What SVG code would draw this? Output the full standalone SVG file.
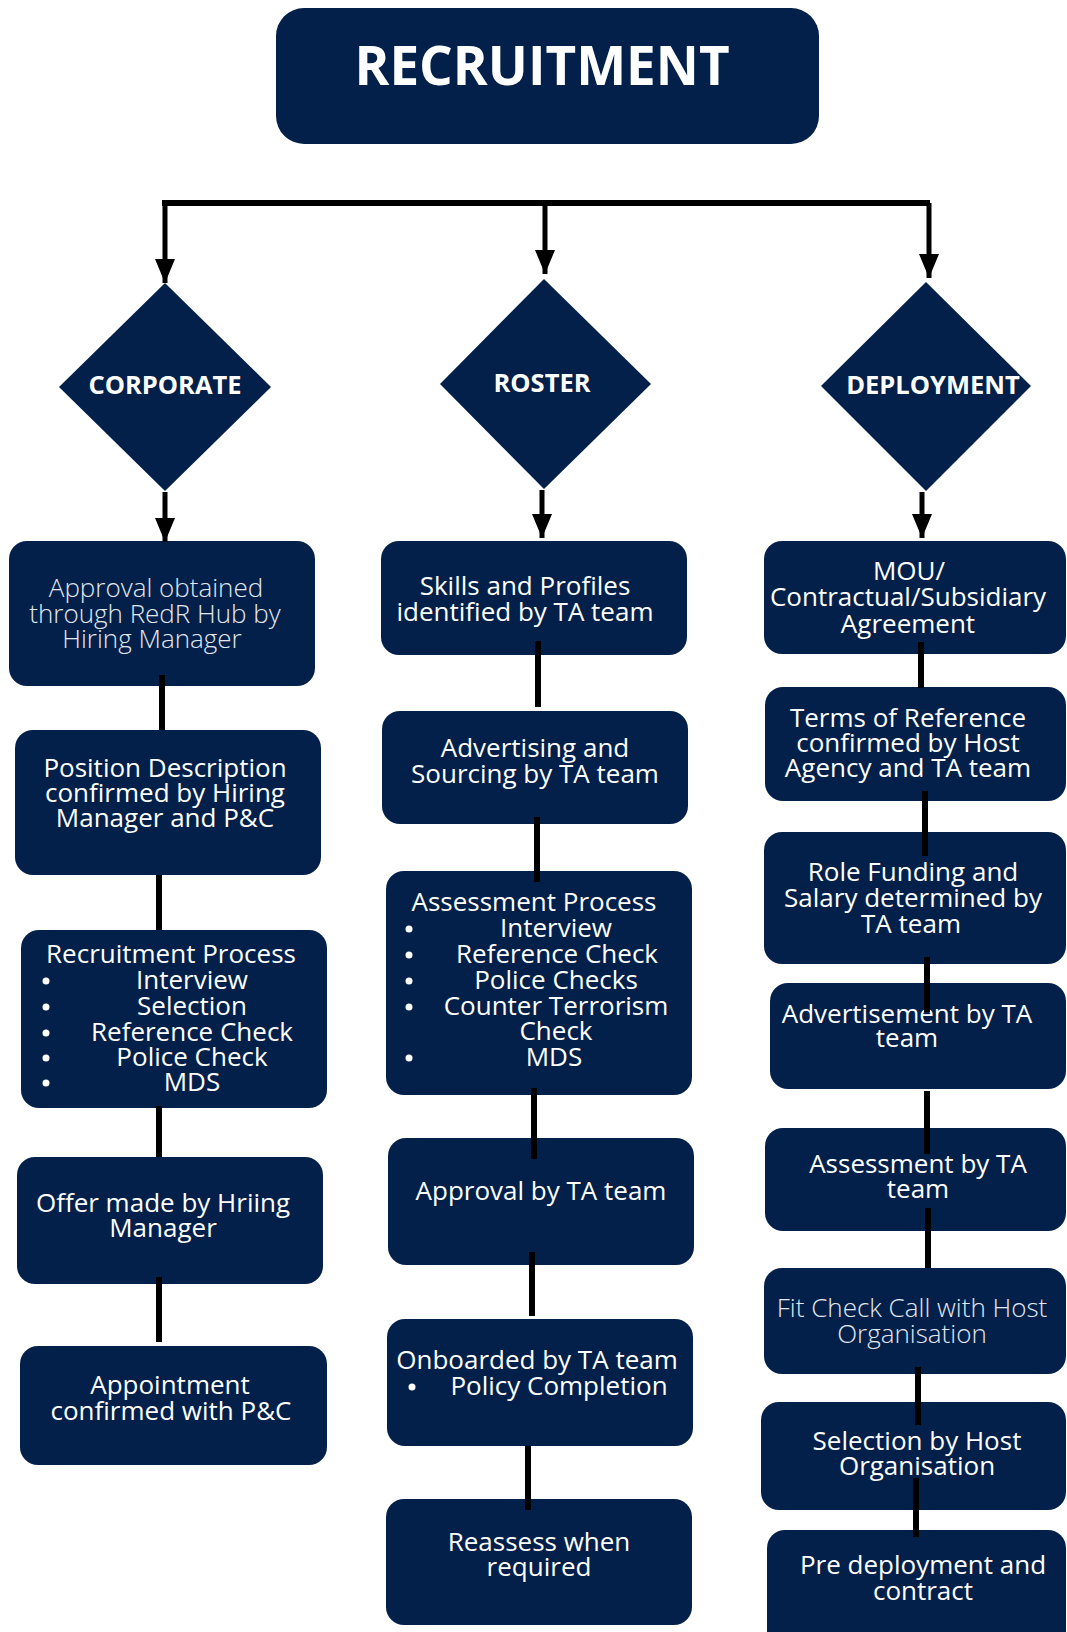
<svg xmlns="http://www.w3.org/2000/svg" width="1067" height="1632" viewBox="0 0 1067 1632">
<defs>
<style>
.box{fill:#03204a}
.t{font-family:'Open Sans','Liberation Sans',sans-serif;font-size:26px;fill:#ffffff;text-anchor:middle}
.lt{font-weight:300;fill:#e4e8ee}
.d{font-family:'Open Sans','Liberation Sans',sans-serif;font-size:25.5px;font-weight:700;fill:#ffffff;text-anchor:middle}
.c{stroke:#000;stroke-width:6;fill:none}
.a{stroke:#000;stroke-width:5;fill:none}
.b{fill:#ffffff}
</style>
<marker id="ah" markerUnits="userSpaceOnUse" markerWidth="26" markerHeight="20" refX="24" refY="10" orient="auto">
<path d="M0,0 L24,10 L0,20 Z" fill="#000"/>
</marker>
</defs>
<rect width="1067" height="1632" fill="#ffffff"/>

<g id="title">
<rect class="box" x="276" y="8" width="543" height="136" rx="28"/>
<text x="542" y="85" font-family="'Open Sans','Liberation Sans',sans-serif" font-size="53" font-weight="700" fill="#ffffff" text-anchor="middle">RECRUITMENT</text>
</g>

<g id="corporate">
<polygon class="box" points="165,283 271,387 165,491 59,387"/>
<text class="d" x="165" y="394">CORPORATE</text>
</g>
<g id="roster">
<polygon class="box" points="544,279 651,384 544,489 440,384"/>
<text class="d" x="542" y="392">ROSTER</text>
</g>
<g id="deployment">
<polygon class="box" points="926,282 1031,386 926,491 821,386"/>
<text class="d" x="933" y="394">DEPLOYMENT</text>
</g>

<g id="c1">
<rect class="box" x="9" y="541" width="306" height="145" rx="18"/>
<text class="t lt" x="156" y="597">Approval obtained</text>
<text class="t lt" x="155" y="623">through RedR Hub by</text>
<text class="t lt" x="152" y="648">Hiring Manager</text>
</g>
<g id="c2">
<rect class="box" x="15" y="730" width="306" height="145" rx="18"/>
<text class="t" x="165" y="777">Position Description</text>
<text class="t" x="165" y="802">confirmed by Hiring</text>
<text class="t" x="165" y="827">Manager and P&amp;C</text>
</g>
<g id="c3">
<rect class="box" x="21" y="930" width="306" height="178" rx="18"/>
<text class="t" x="171" y="963">Recruitment Process</text>
<circle class="b" cx="46" cy="981" r="3.5"/><text class="t" x="192" y="989">Interview</text>
<circle class="b" cx="46" cy="1007" r="3.5"/><text class="t" x="192" y="1015">Selection</text>
<circle class="b" cx="46" cy="1033" r="3.5"/><text class="t" x="192" y="1041">Reference Check</text>
<circle class="b" cx="46" cy="1058" r="3.5"/><text class="t" x="192" y="1066">Police Check</text>
<circle class="b" cx="46" cy="1083" r="3.5"/><text class="t" x="192" y="1091">MDS</text>
</g>
<g id="c4">
<rect class="box" x="17" y="1157" width="306" height="127" rx="18"/>
<text class="t" x="163" y="1212">Offer made by Hriing</text>
<text class="t" x="163" y="1237">Manager</text>
</g>
<g id="c5">
<rect class="box" x="20" y="1346" width="307" height="119" rx="18"/>
<text class="t" x="170" y="1394">Appointment</text>
<text class="t" x="171" y="1420">confirmed with P&amp;C</text>
</g>

<g id="r1">
<rect class="box" x="381" y="541" width="306" height="114" rx="18"/>
<text class="t" x="525" y="595">Skills and Profiles</text>
<text class="t" x="525" y="621">identified by TA team</text>
</g>
<g id="r2">
<rect class="box" x="382" y="711" width="306" height="113" rx="18"/>
<text class="t" x="535" y="757">Advertising and</text>
<text class="t" x="535" y="783">Sourcing by TA team</text>
</g>
<g id="r3">
<rect class="box" x="386" y="871" width="306" height="224" rx="18"/>
<text class="t" x="534" y="911">Assessment Process</text>
<circle class="b" cx="409" cy="929" r="3.5"/><text class="t" x="556" y="937">Interview</text>
<circle class="b" cx="409" cy="955" r="3.5"/><text class="t" x="557" y="963">Reference Check</text>
<circle class="b" cx="409" cy="981" r="3.5"/><text class="t" x="556" y="989">Police Checks</text>
<circle class="b" cx="409" cy="1007" r="3.5"/><text class="t" x="556" y="1015">Counter Terrorism</text>
<text class="t" x="556" y="1040">Check</text>
<circle class="b" cx="409" cy="1058" r="3.5"/><text class="t" x="554" y="1066">MDS</text>
</g>
<g id="r4">
<rect class="box" x="388" y="1138" width="306" height="127" rx="18"/>
<text class="t" x="541" y="1200">Approval by TA team</text>
</g>
<g id="r5">
<rect class="box" x="387" y="1319" width="306" height="127" rx="18"/>
<text class="t" x="537" y="1369">Onboarded by TA team</text>
<circle class="b" cx="412" cy="1387" r="3.5"/><text class="t" x="559" y="1395">Policy Completion</text>
</g>
<g id="r6">
<rect class="box" x="386" y="1499" width="306" height="126" rx="18"/>
<text class="t" x="539" y="1551">Reassess when</text>
<text class="t" x="539" y="1576">required</text>
</g>

<g id="d1">
<rect class="box" x="764" y="541" width="302" height="113" rx="18"/>
<text class="t" x="909" y="580">MOU/</text>
<text class="t" x="908" y="606">Contractual/Subsidiary</text>
<text class="t" x="908" y="633">Agreement</text>
</g>
<g id="d2">
<rect class="box" x="765" y="687" width="301" height="114" rx="18"/>
<text class="t" x="908" y="727">Terms of Reference</text>
<text class="t" x="908" y="752">confirmed by Host</text>
<text class="t" x="908" y="777">Agency and TA team</text>
</g>
<g id="d3">
<rect class="box" x="764" y="832" width="302" height="132" rx="18"/>
<text class="t" x="913" y="881">Role Funding and</text>
<text class="t" x="913" y="907">Salary determined by</text>
<text class="t" x="911" y="933">TA team</text>
</g>
<g id="d4">
<rect class="box" x="770" y="983" width="296" height="106" rx="18"/>
<text class="t" x="907" y="1023">Advertisement by TA</text>
<text class="t" x="907" y="1047">team</text>
</g>
<g id="d5">
<rect class="box" x="765" y="1128" width="301" height="103" rx="18"/>
<text class="t" x="918" y="1173">Assessment by TA</text>
<text class="t" x="918" y="1198">team</text>
</g>
<g id="d6">
<rect class="box" x="764" y="1268" width="302" height="106" rx="18"/>
<text class="t lt" x="912" y="1317">Fit Check Call with Host</text>
<text class="t lt" x="912" y="1343">Organisation</text>
</g>
<g id="d7">
<rect class="box" x="761" y="1402" width="305" height="108" rx="18"/>
<text class="t" x="917" y="1450">Selection by Host</text>
<text class="t" x="917" y="1475">Organisation</text>
</g>
<g id="d8">
<rect class="box" x="767" y="1530" width="299" height="120" rx="18"/>
<text class="t" x="923" y="1574">Pre deployment and</text>
<text class="t" x="923" y="1600">contract</text>
</g>

<g id="connectors">
<line class="c" x1="162" y1="203" x2="930" y2="203"/>
<line class="a" x1="165" y1="206" x2="165" y2="283" marker-end="url(#ah)"/>
<line class="a" x1="545" y1="203" x2="545" y2="274" marker-end="url(#ah)"/>
<line class="a" x1="929" y1="203" x2="929" y2="278" marker-end="url(#ah)"/>
<line class="a" x1="165" y1="492" x2="165" y2="542" marker-end="url(#ah)"/>
<line class="a" x1="542" y1="490" x2="542" y2="538" marker-end="url(#ah)"/>
<line class="a" x1="922" y1="492" x2="922" y2="538" marker-end="url(#ah)"/>

<line class="c" x1="162" y1="675" x2="162" y2="730"/>
<line class="c" x1="159" y1="875" x2="159" y2="930"/>
<line class="c" x1="159" y1="1106" x2="159" y2="1157"/>
<line class="c" x1="159" y1="1277" x2="159" y2="1342"/>

<line class="c" x1="538" y1="641" x2="538" y2="707"/>
<line class="c" x1="537" y1="817" x2="537" y2="882"/>
<line class="c" x1="534" y1="1088" x2="534" y2="1159"/>
<line class="c" x1="532" y1="1252" x2="532" y2="1316"/>
<line class="c" x1="528" y1="1446" x2="528" y2="1510"/>

<line class="c" x1="921" y1="642" x2="921" y2="688"/>
<line class="c" x1="925" y1="791" x2="925" y2="856"/>
<line class="c" x1="927" y1="957" x2="927" y2="1012"/>
<line class="c" x1="927" y1="1091" x2="927" y2="1154"/>
<line class="c" x1="928" y1="1208" x2="928" y2="1268"/>
<line class="c" x1="918" y1="1367" x2="918" y2="1425"/>
<line class="c" x1="916" y1="1478" x2="916" y2="1537"/>
</g>
</svg>
